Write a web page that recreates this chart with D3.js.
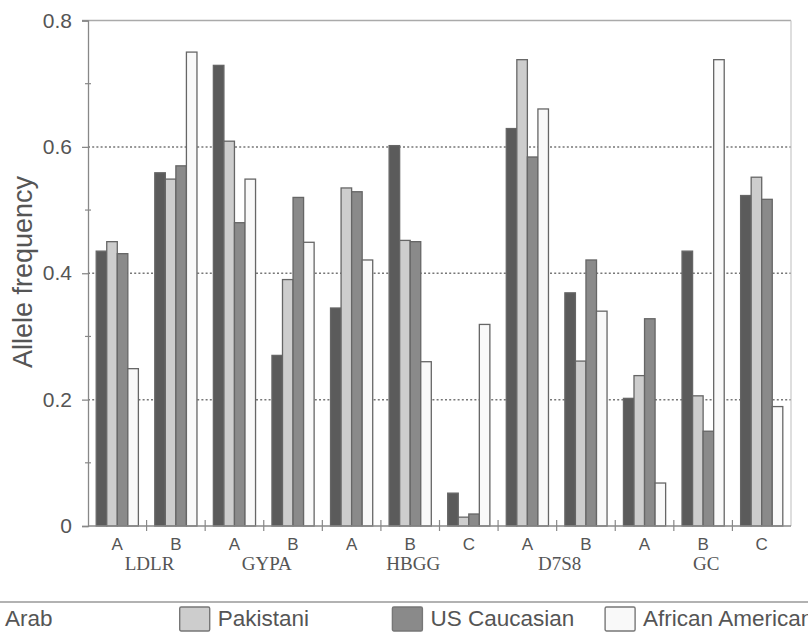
<!DOCTYPE html>
<html>
<head>
<meta charset="utf-8">
<script src="https://cdn.jsdelivr.net/npm/d3@7"></script>
<style>
  html, body { margin: 0; padding: 0; background: #fff; }
  svg { display: block; }
</style>
</head>
<body>
<svg id="chart" width="808" height="633"></svg>
<script>
// ---- data ----
const categories = ["A", "B", "A", "B", "A", "B", "C", "A", "B", "A", "B", "C"];
const genes = [
  { name: "LDLR", from: 0, to: 1 },
  { name: "GYPA", from: 2, to: 3 },
  { name: "HBGG", from: 4, to: 6 },
  { name: "D7S8", from: 7, to: 8 },
  { name: "GC",   from: 9, to: 11 }
];
const series = ["Arab", "Pakistani", "US Caucasian", "African American"];
const arab         = [0.435, 0.559, 0.729, 0.270, 0.345, 0.602, 0.052, 0.629, 0.369, 0.202, 0.435, 0.523];
const pakistani    = [0.450, 0.549, 0.609, 0.390, 0.535, 0.452, 0.014, 0.738, 0.261, 0.238, 0.206, 0.552];
const usCaucasian  = [0.431, 0.570, 0.480, 0.520, 0.529, 0.450, 0.019, 0.584, 0.421, 0.328, 0.150, 0.517];
const africanAm    = [0.249, 0.750, 0.549, 0.449, 0.421, 0.260, 0.319, 0.660, 0.340, 0.068, 0.738, 0.189];
const seriesValues = [arab, pakistani, usCaucasian, africanAm];
const yTicks = [0, 0.2, 0.4, 0.6, 0.8];
const yMinorTicks = [0.1, 0.3, 0.5, 0.7];

// ---- styles ----
const fills = ["#5b5b5b", "#cdcdcd", "#8a8a8a", "#f9f9f9"];
const textColor = "#555";

const svg = d3.select("#chart");
const mLeft = 88, mRight = 791, mTop = 20.5, mBottom = 526;

const groupIdx = d3.range(categories.length);
const x0 = d3.scaleBand().domain(groupIdx).range([mLeft, mRight]).paddingInner(0.28).paddingOuter(0.14);
const x1 = d3.scaleBand().domain(d3.range(series.length)).range([0, x0.bandwidth()]);
const y = d3.scaleLinear().domain([0, 0.8]).range([mBottom, mTop]);

// gridlines (dotted)
svg.append("g").selectAll("line").data([0.2, 0.4, 0.6]).join("line")
  .attr("x1", mLeft).attr("x2", mRight)
  .attr("y1", d => y(d)).attr("y2", d => y(d))
  .attr("stroke", "#777").attr("stroke-width", 1.5).attr("stroke-dasharray", "2,2.2");

// top border & right border
svg.append("line").attr("x1", mLeft - 6).attr("x2", mRight).attr("y1", y(0.8)).attr("y2", y(0.8))
  .attr("stroke", "#aaa").attr("stroke-width", 1.5);
svg.append("line").attr("x1", mRight).attr("x2", mRight).attr("y1", y(0.8)).attr("y2", mBottom)
  .attr("stroke", "#c8c8c8").attr("stroke-width", 1.2);

// bars
const gGroups = svg.append("g").selectAll("g").data(groupIdx).join("g")
  .attr("transform", i => `translate(${x0(i)},0)`);
gGroups.selectAll("rect").data(i => seriesValues.map((vals, s) => ({ s, v: vals[i] }))).join("rect")
  .attr("x", d => x1(d.s))
  .attr("width", x1.bandwidth())
  .attr("y", d => y(d.v))
  .attr("height", d => y(0) - y(d.v))
  .attr("fill", d => fills[d.s])
  .attr("stroke", "#666")
  .attr("stroke-width", 1.3);

// y axis
const yAxis = d3.axisLeft(y).tickValues(yTicks).tickFormat(d => d === 0 ? "0" : d3.format(".1f")(d)).tickSize(6).tickPadding(10);
const gy = svg.append("g").attr("transform", `translate(${mLeft},0)`).call(yAxis);
gy.select(".domain").attr("stroke", "#888").attr("stroke-width", 1.3);
gy.selectAll(".tick line").attr("stroke", "#888").attr("stroke-width", 1.3);
gy.selectAll(".tick text").attr("fill", textColor).style("font-family", "Liberation Sans, Arial, sans-serif").style("font-size", "21px");
// minor ticks crossing axis
svg.append("g").selectAll("line").data(yMinorTicks).join("line")
  .attr("x1", mLeft - 3).attr("x2", mLeft + 3)
  .attr("y1", d => y(d)).attr("y2", d => y(d))
  .attr("stroke", "#888").attr("stroke-width", 1.2);

// x axis
svg.append("line").attr("x1", mLeft).attr("x2", mRight).attr("y1", mBottom).attr("y2", mBottom)
  .attr("stroke", "#888").attr("stroke-width", 1.3);
const step = x0.step();
svg.append("g").selectAll("line").data(d3.range(1, categories.length)).join("line")
  .attr("x1", i => mLeft + i * step).attr("x2", i => mLeft + i * step)
  .attr("y1", mBottom - 6).attr("y2", mBottom + 5)
  .attr("stroke", "#888").attr("stroke-width", 1.2);
svg.append("g").selectAll("text").data(groupIdx).join("text")
  .attr("x", i => x0(i) + x0.bandwidth() / 2)
  .attr("y", 550)
  .attr("text-anchor", "middle")
  .attr("fill", textColor)
  .style("font-family", "Liberation Sans, Arial, sans-serif")
  .style("font-size", "17px")
  .text(i => categories[i]);

// gene labels
svg.append("g").selectAll("text").data(genes).join("text")
  .attr("x", g => (x0(g.from) + x0(g.to) + x0.bandwidth()) / 2 + 3)
  .attr("y", 570)
  .attr("text-anchor", "middle")
  .attr("fill", textColor)
  .style("font-family", "Liberation Serif, Times New Roman, serif")
  .style("font-size", "19px")
  .text(g => g.name);

// y title
svg.append("text")
  .attr("transform", `translate(32,272) rotate(-90)`)
  .attr("text-anchor", "middle")
  .attr("fill", textColor)
  .style("font-family", "Liberation Sans, Arial, sans-serif")
  .style("font-size", "27px")
  .text("Allele frequency");

// legend
svg.append("line").attr("x1", 0).attr("x2", 808).attr("y1", 602).attr("y2", 602)
  .attr("stroke", "#999").attr("stroke-width", 1.5);
const lg = svg.append("g").selectAll("g").data(series).join("g")
  .attr("transform", (d, i) => `translate(${-33 + i * 212.7},0)`);
lg.append("rect").attr("x", 0).attr("y", 607).attr("width", 30).attr("height", 24)
  .attr("rx", 1.5)
  .attr("fill", (d, i) => fills[i]).attr("stroke", "#777").attr("stroke-width", 1.4);
lg.append("text").attr("x", 38).attr("y", 626)
  .attr("fill", textColor)
  .style("font-family", "Liberation Sans, Arial, sans-serif")
  .style("font-size", "22.5px")
  .text(d => d);
</script>
</body>
</html>
